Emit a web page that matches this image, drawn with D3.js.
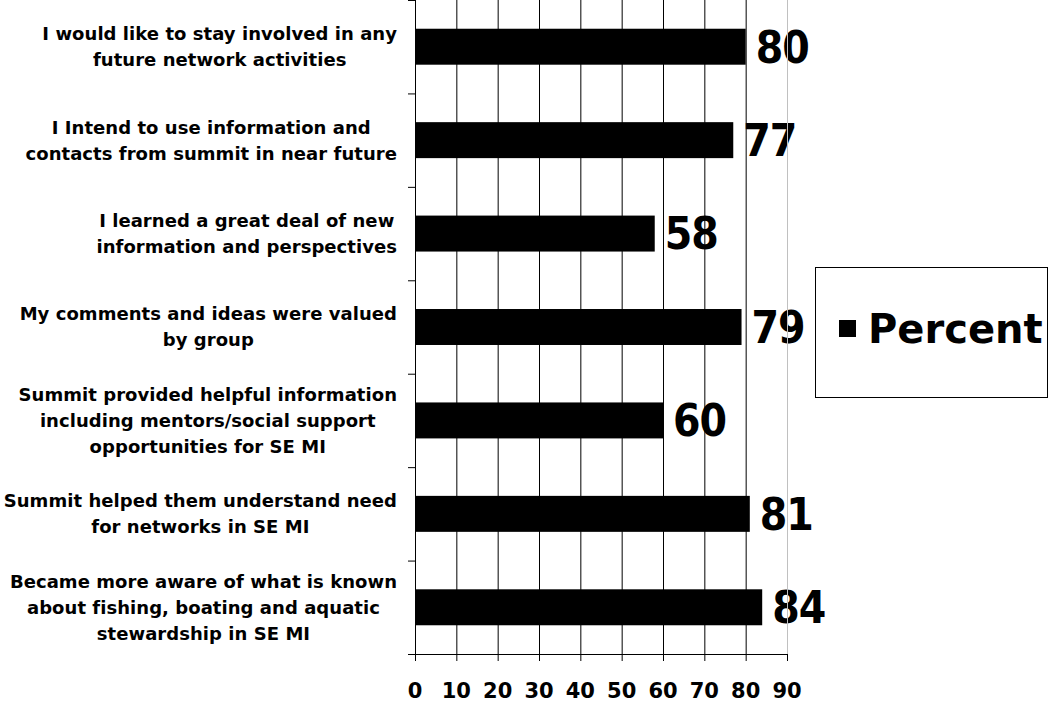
<!DOCTYPE html>
<html>
<head>
<meta charset="utf-8">
<script src="https://cdn.jsdelivr.net/npm/d3@7"></script>
<style>
  body { margin: 0; background: #fff; }
  svg { display: block; }
  text { font-family: "DejaVu Sans", Verdana, sans-serif; font-weight: bold; fill: #000; }
  text.value { font-family: "DejaVu Sans Condensed", "DejaVu Sans", sans-serif; }
</style>
</head>
<body>
<svg id="chart" width="1063" height="704"></svg>
<script>
// category labels, already broken into lines like in the original
const categories = [
  ['I would like to stay involved in any', 'future network activities'],
  ['I Intend to use information and', 'contacts from summit in near future'],
  ['I learned a great deal of new', 'information and perspectives'],
  ['My comments and ideas were valued', 'by group'],
  ['Summit provided helpful information', 'including mentors/social support', 'opportunities for SE MI'],
  ['Summit helped them understand need', 'for networks in SE MI'],
  ['Became more aware of what is known', 'about fishing, boating and aquatic', 'stewardship in SE MI']
];
const percent = [80, 77, 58, 79, 60, 81, 84];
const xTicks = [0, 10, 20, 30, 40, 50, 60, 70, 80, 90];
const seriesName = 'Percent';

const margin = { top: 0, left: 415 };
const w = 372, h = 654;
const svg = d3.select('#chart');
const g = svg.append('g').attr('transform', `translate(${margin.left},${margin.top})`);

const keys = categories.map((d, i) => i);
const x = d3.scaleLinear().domain([0, 90]).range([0, w]);
const y = d3.scaleBand().domain(keys).range([0, h]).paddingInner(0.615).paddingOuter(0.3075);
const step = y.step();

// value labels first, the grid is drawn over them
g.append('g').selectAll('text').data(keys).join('text')
  .attr('class', 'value')
  .attr('x', i => x(percent[i]) + 10)
  .attr('y', i => y(i) + y.bandwidth() / 2)
  .attr('dy', '0.36em')
  .style('font-size', '44px')
  .style('letter-spacing', '-1px')
  .text(i => percent[i]);

// vertical grid
g.append('g').selectAll('line').data(xTicks.slice(1)).join('line')
  .attr('x1', d => x(d) + 0.5).attr('x2', d => x(d) + 0.5)
  .attr('y1', 0).attr('y2', h)
  .attr('stroke', d => d === 90 ? '#c0c0c0' : '#000')
  .attr('stroke-width', 1);

// bars
g.append('g').selectAll('rect').data(keys).join('rect')
  .attr('x', 0)
  .attr('y', i => y(i))
  .attr('width', i => x(percent[i]))
  .attr('height', y.bandwidth())
  .attr('fill', '#000');

// x axis
const xAxis = g.append('g').attr('transform', `translate(0,${h})`);
xAxis.append('line').attr('x1', -7).attr('x2', w + 0.5).attr('y1', 0.5).attr('y2', 0.5).attr('stroke', '#000');
xAxis.selectAll('line.tick').data(xTicks).join('line').attr('class', 'tick')
  .attr('x1', d => x(d) + 0.5).attr('x2', d => x(d) + 0.5)
  .attr('y1', 0).attr('y2', 7).attr('stroke', '#000');
xAxis.selectAll('text').data(xTicks).join('text')
  .attr('x', d => x(d))
  .attr('y', 44)
  .attr('text-anchor', 'middle')
  .style('font-size', '21px')
  .text(d => d);

// y axis with ticks between categories
const yAxis = g.append('g');
yAxis.append('line').attr('x1', 0.5).attr('x2', 0.5).attr('y1', 0).attr('y2', h).attr('stroke', '#000');
yAxis.selectAll('line.tick').data(d3.range(categories.length + 1)).join('line').attr('class', 'tick')
  .attr('x1', -7).attr('x2', 0)
  .attr('y1', i => (i < categories.length ? y(i) - step * y.paddingInner() / 2 : h) + 0.5)
  .attr('y2', i => (i < categories.length ? y(i) - step * y.paddingInner() / 2 : h) + 0.5)
  .attr('stroke', '#000');

// category labels: lines centred in a block that is right aligned to the axis
const lineH = 26;
const labels = g.append('g');
keys.forEach(i => {
  const lines = categories[i];
  const t = labels.append('text')
    .style('font-size', '18px')
    .style('letter-spacing', '0.05px')
    .attr('text-anchor', 'middle');
  lines.forEach((s, k) => {
    t.append('tspan')
      .attr('y', y(i) + y.bandwidth() / 2 + (k - (lines.length - 1) / 2) * lineH)
      .attr('dy', '0.36em')
      .text(s);
  });
  let maxW = 0;
  t.selectAll('tspan').each(function () { maxW = Math.max(maxW, this.getComputedTextLength()); });
  t.selectAll('tspan').attr('x', -18 - maxW / 2);
});

// legend
const legend = svg.append('g').attr('transform', 'translate(815,267)');
legend.append('rect').attr('x', 0.5).attr('y', 0.5).attr('width', 232).attr('height', 130)
  .attr('fill', '#fff').attr('stroke', '#000');
legend.append('rect').attr('x', 24).attr('y', 53).attr('width', 17).attr('height', 17).attr('fill', '#000');
legend.append('text').attr('x', 53).attr('y', 76)
  .style('font-size', '40px')
  .text(seriesName);
</script>
</body>
</html>
